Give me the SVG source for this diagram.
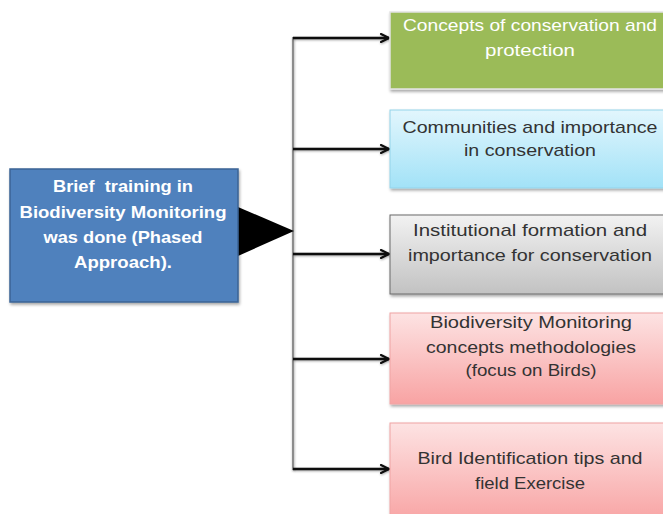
<svg xmlns="http://www.w3.org/2000/svg" width="663" height="514" viewBox="0 0 663 514">
  <style>
    text { font-family: "Liberation Sans", Arial, sans-serif; font-size: 17px; text-anchor: middle; }
    .dark { fill: #333333; }
    .light { fill: #ffffff; }
    .bold { font-weight: bold; }
    .conn { stroke: #111111; stroke-width: 2.5; fill: none; marker-end: url(#head); }
    .trunk { stroke: #8c8c8c; stroke-width: 2; fill: none; }
  </style>
  <defs>
    <filter id="shadow" x="-10%" y="-10%" width="130%" height="140%">
      <feDropShadow dx="1" dy="2" stdDeviation="1.4" flood-color="#000" flood-opacity="0.35"/>
    </filter>
    <filter id="lineShadow" filterUnits="userSpaceOnUse" x="0" y="0" width="663" height="514">
      <feDropShadow dx="0.5" dy="1" stdDeviation="0.8" flood-color="#000" flood-opacity="0.35"/>
    </filter>
    <marker id="head" viewBox="0 0 10 10" refX="9" refY="5" markerWidth="4" markerHeight="4" orient="auto" markerUnits="strokeWidth">
      <path d="M1,1 L9,5 L1,9" fill="none" stroke="#111111" stroke-width="2.2" stroke-linecap="round" stroke-linejoin="round"/>
    </marker>
    <linearGradient id="gBlue" x1="0" y1="0" x2="0" y2="1">
      <stop offset="0" stop-color="#e2f6fd"/>
      <stop offset="1" stop-color="#a2e2f7"/>
    </linearGradient>
    <linearGradient id="gGray" x1="0" y1="0" x2="0" y2="1">
      <stop offset="0" stop-color="#f2f2f2"/>
      <stop offset="1" stop-color="#c2c2c2"/>
    </linearGradient>
    <linearGradient id="gPink" x1="0" y1="0" x2="0" y2="1">
      <stop offset="0" stop-color="#fde3e3"/>
      <stop offset="1" stop-color="#f8a3a3"/>
    </linearGradient>
  </defs>

  <rect width="663" height="514" fill="#ffffff"/>

  <!-- connectors: trunk line, pointer triangle and branch arrows -->
  <g id="connectors">
    <line class="trunk" x1="293" y1="37" x2="293" y2="470" filter="url(#lineShadow)"/>
    <polygon points="238,207 238,256 294,231" fill="#000000"/>
    <g filter="url(#lineShadow)">
      <line class="conn" x1="293" y1="38" x2="389" y2="38"/>
      <line class="conn" x1="293" y1="149" x2="389" y2="149"/>
      <line class="conn" x1="293" y1="254" x2="389" y2="254"/>
      <line class="conn" x1="293" y1="359" x2="389" y2="359"/>
      <line class="conn" x1="293" y1="469" x2="389" y2="469"/>
    </g>
  </g>

  <!-- source node -->
  <g id="training">
    <rect x="10" y="169" width="228" height="133" fill="#4f81bd" stroke="#3b6495" stroke-width="1.5" filter="url(#shadow)"/>
    <text class="light bold" x="123" y="192" textLength="140" lengthAdjust="spacingAndGlyphs" xml:space="preserve">Brief  training in</text>
    <text class="light bold" x="123" y="218" textLength="207" lengthAdjust="spacingAndGlyphs">Biodiversity Monitoring</text>
    <text class="light bold" x="123" y="243" textLength="159" lengthAdjust="spacingAndGlyphs">was done (Phased</text>
    <text class="light bold" x="123" y="268" textLength="98" lengthAdjust="spacingAndGlyphs">Approach).</text>
  </g>

  <!-- topic nodes -->
  <g id="concepts">
    <rect x="390" y="12" width="290" height="77" fill="#9bbb59" stroke="#e4e4e4" stroke-width="1.5" filter="url(#shadow)"/>
    <text class="light" x="530" y="31" textLength="254" lengthAdjust="spacingAndGlyphs">Concepts of conservation and</text>
    <text class="light" x="530" y="56" textLength="90" lengthAdjust="spacingAndGlyphs">protection</text>
  </g>

  <g id="communities">
    <rect x="390" y="110" width="290" height="78" fill="url(#gBlue)" stroke="#93d3ea" stroke-width="1" filter="url(#shadow)"/>
    <text class="dark" x="530" y="133" textLength="255" lengthAdjust="spacingAndGlyphs">Communities and importance</text>
    <text class="dark" x="530" y="156" textLength="132" lengthAdjust="spacingAndGlyphs">in conservation</text>
  </g>

  <g id="institutional">
    <rect x="390" y="215" width="290" height="79" fill="url(#gGray)" stroke="#6a6a6a" stroke-width="1" filter="url(#shadow)"/>
    <text class="dark" x="530" y="236" textLength="234" lengthAdjust="spacingAndGlyphs">Institutional formation and</text>
    <text class="dark" x="530" y="261" textLength="244" lengthAdjust="spacingAndGlyphs">importance for conservation</text>
  </g>

  <g id="monitoring">
    <rect x="390" y="313" width="290" height="91" fill="url(#gPink)" stroke="#f0a4a4" stroke-width="1" filter="url(#shadow)"/>
    <text class="dark" x="531" y="328" textLength="202" lengthAdjust="spacingAndGlyphs">Biodiversity Monitoring</text>
    <text class="dark" x="531" y="353" textLength="210" lengthAdjust="spacingAndGlyphs">concepts methodologies</text>
    <text class="dark" x="531" y="376" textLength="131" lengthAdjust="spacingAndGlyphs">(focus on Birds)</text>
  </g>

  <g id="identification">
    <rect x="390" y="423" width="290" height="100" fill="url(#gPink)" stroke="#f0a4a4" stroke-width="1" filter="url(#shadow)"/>
    <text class="dark" x="530" y="464" textLength="225" lengthAdjust="spacingAndGlyphs">Bird Identification tips and</text>
    <text class="dark" x="530" y="489" textLength="110" lengthAdjust="spacingAndGlyphs">field Exercise</text>
  </g>
</svg>
